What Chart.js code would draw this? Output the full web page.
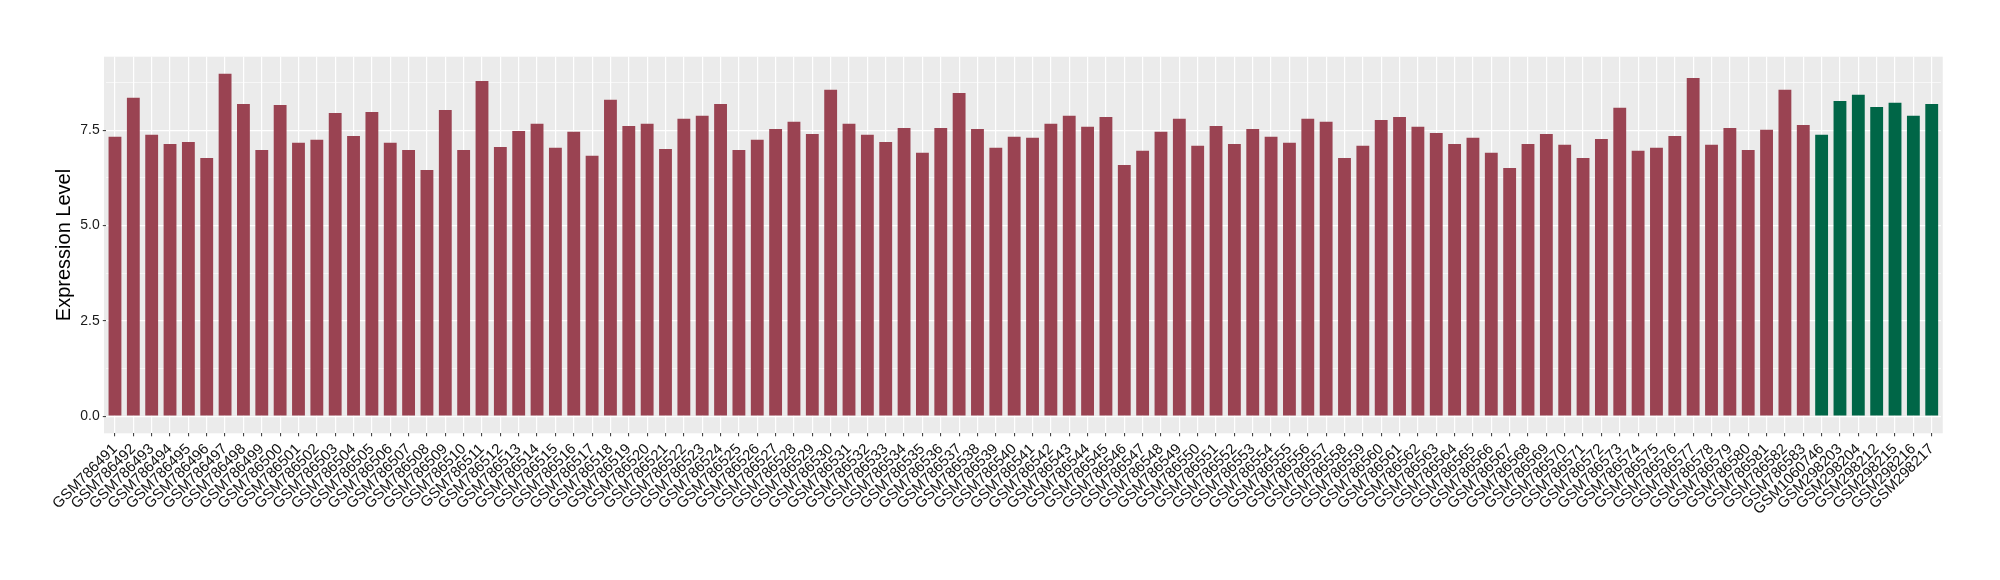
<!DOCTYPE html>
<html>
<head>
<meta charset="utf-8">
<style>
html,body{margin:0;padding:0;background:#fff;}
#wrap{width:2000px;height:580px;position:relative;}
</style>
<script src="https://cdn.jsdelivr.net/npm/chart.js@4/dist/chart.umd.min.js"></script>
</head>
<body>
<div id="wrap"><canvas id="c" width="2000" height="580"></canvas></div>
<script>
const redSamples = [
"GSM786491","GSM786492","GSM786493","GSM786494","GSM786495","GSM786496","GSM786497","GSM786498","GSM786499","GSM786500",
"GSM786501","GSM786502","GSM786503","GSM786504","GSM786505","GSM786506","GSM786507","GSM786508","GSM786509","GSM786510",
"GSM786511","GSM786512","GSM786513","GSM786514","GSM786515","GSM786516","GSM786517","GSM786518","GSM786519","GSM786520",
"GSM786521","GSM786522","GSM786523","GSM786524","GSM786525","GSM786526","GSM786527","GSM786528","GSM786529","GSM786530",
"GSM786531","GSM786532","GSM786533","GSM786534","GSM786535","GSM786536","GSM786537","GSM786538","GSM786539","GSM786540",
"GSM786541","GSM786542","GSM786543","GSM786544","GSM786545","GSM786546","GSM786547","GSM786548","GSM786549","GSM786550",
"GSM786551","GSM786552","GSM786553","GSM786554","GSM786555","GSM786556","GSM786557","GSM786558","GSM786559","GSM786560",
"GSM786561","GSM786562","GSM786563","GSM786564","GSM786565","GSM786566","GSM786567","GSM786568","GSM786569","GSM786570",
"GSM786571","GSM786572","GSM786573","GSM786574","GSM786575","GSM786576","GSM786577","GSM786578","GSM786579","GSM786580",
"GSM786581","GSM786582","GSM786583"
];
const redValues = [
7.33,8.35,7.38,7.14,7.19,6.77,8.98,8.19,6.98,8.16,
7.17,7.25,7.95,7.35,7.98,7.17,6.98,6.46,8.03,6.98,
8.79,7.06,7.48,7.67,7.04,7.46,6.83,8.30,7.61,7.67,
7.01,7.80,7.88,8.19,6.98,7.25,7.53,7.72,7.40,8.56,
7.67,7.38,7.19,7.56,6.91,7.56,8.48,7.53,7.04,7.33,
7.30,7.67,7.88,7.59,7.85,6.59,6.96,7.46,7.80,7.09,
7.61,7.14,7.53,7.33,7.17,7.80,7.72,6.77,7.09,7.77,
7.85,7.59,7.43,7.14,7.30,6.91,6.51,7.14,7.40,7.12,
6.77,7.27,8.09,6.96,7.04,7.35,8.87,7.12,7.56,6.98,
7.51,8.56,7.64
];
const greenSamples = ["GSM1060746","GSM298203","GSM298204","GSM298212","GSM298215","GSM298216","GSM298217"];
const greenValues = [7.38,8.27,8.43,8.11,8.22,7.88,8.19];
const yTicks = [0, 1.25, 2.5, 3.75, 5, 6.25, 7.5, 8.75];
const majorTicks = [0, 2.5, 5, 7.5];

const categories = redSamples.concat(greenSamples);
const values = redValues.concat(greenValues);
const RED = '#9A4352';
const GREEN = '#006647';
const colors = categories.map(c => greenSamples.includes(c) ? GREEN : RED);

const panelBg = {
  id: 'panelBg',
  beforeDraw(chart) {
    const a = chart.chartArea, ctx = chart.ctx;
    const u = (a.right - a.left) / categories.length;
    ctx.save();
    ctx.fillStyle = '#EBEBEB';
    ctx.fillRect(a.left - 0.1 * u, a.top, (a.right - a.left) + 0.2 * u, a.bottom - a.top);
    ctx.restore();
  }
};

const FONT = "'Liberation Sans', Arial, sans-serif";
const isMajor = v => majorTicks.some(m => Math.abs(m - v) < 1e-6);

new Chart(document.getElementById('c'), {
  type: 'bar',
  data: {
    labels: categories,
    datasets: [{
      data: values,
      backgroundColor: colors,
      borderWidth: 0,
      barPercentage: 0.7,
      categoryPercentage: 1.0
    }]
  },
  options: {
    responsive: false,
    animation: false,
    devicePixelRatio: 1,
    layout: { padding: { top: 56.7, right: 59.1, bottom: 0, left: 50 } },
    plugins: { legend: { display: false }, tooltip: { enabled: false } },
    scales: {
      x: {
        offset: true,
        border: { display: false },
        grid: {
          offset: false,
          color: '#FFFFFF',
          lineWidth: 1.2,
          drawTicks: true,
          tickLength: 3,
          tickColor: '#333333',
          tickWidth: 1
        },
        ticks: {
          autoSkip: false,
          minRotation: 45,
          maxRotation: 45,
          padding: 4,
          color: '#111111',
          font: { family: FONT, size: 15 }
        },
        afterFit(scale) { scale.height = 580 - 433.3; }
      },
      y: {
        min: -0.449,
        max: 9.429,
        border: { display: false },
        afterBuildTicks(scale) { scale.ticks = yTicks.map(v => ({ value: v })); },
        grid: {
          color: '#FFFFFF',
          lineWidth: ctx => (ctx.tick && isMajor(ctx.tick.value)) ? 1.2 : 0.6,
          drawTicks: true,
          tickLength: 3,
          tickColor: ctx => (ctx.tick && isMajor(ctx.tick.value)) ? '#333333' : 'rgba(0,0,0,0)',
          tickWidth: 1
        },
        ticks: {
          padding: 3,
          color: '#1A1A1A',
          font: { family: FONT, size: 14 },
          callback: v => isMajor(v) ? v.toFixed(1) : ''
        },
        title: {
          display: true,
          text: 'Expression Level',
          color: '#000000',
          font: { family: FONT, size: 20 },
          padding: { top: 2, bottom: 0 }
        },
        afterFit(scale) { scale.width = 105.8 - 50; }
      }
    }
  },
  plugins: [panelBg]
});
</script>
</body>
</html>
